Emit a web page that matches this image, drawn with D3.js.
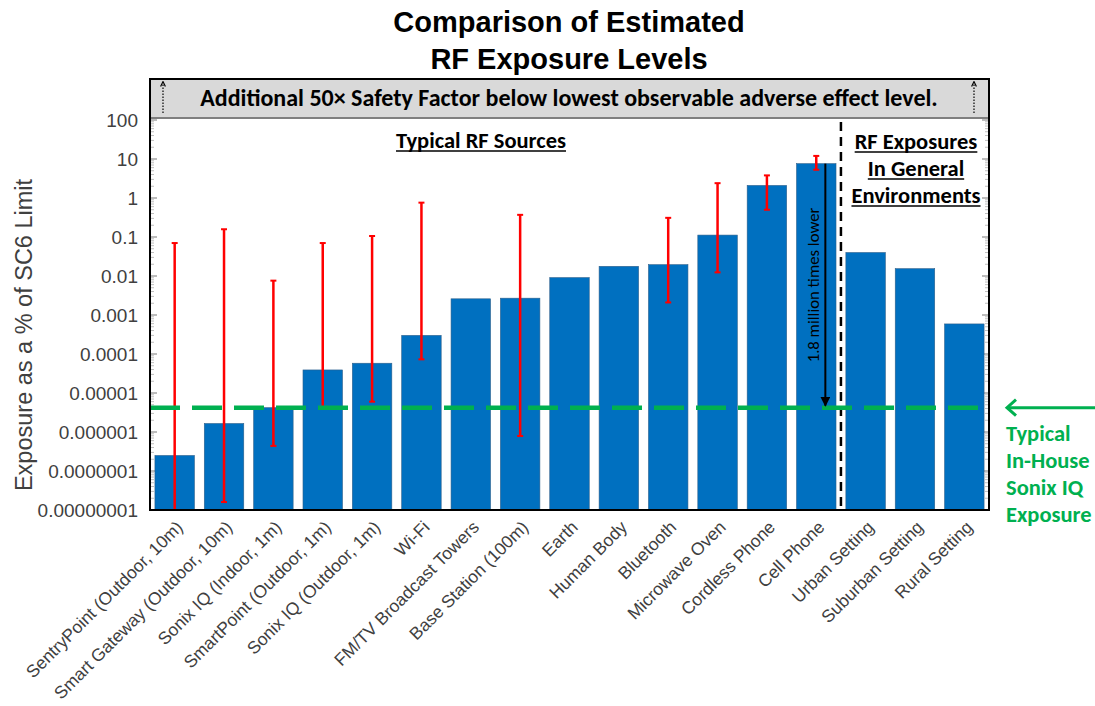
<!DOCTYPE html>
<html lang="en">
<head>
  <meta charset="UTF-8">
  <title>Comparison of Estimated RF Exposure Levels</title>
  <script src="https://d3js.org/d3.v7.min.js"></script>
  <style>
    body { margin: 0; background: #fff; }
    svg text { font-family: "Liberation Sans", Arial, sans-serif; }
    .cal { font-family: Carlito, Lato, "Open Sans", sans-serif !important; }
  </style>
</head>
<body>
<svg id="chart" width="1095" height="706"></svg>
<script>
  // data
  var categories = [
    "SentryPoint (Outdoor, 10m)", "Smart Gateway (Outdoor, 10m)", "Sonix IQ (Indoor, 1m)",
    "SmartPoint (Outdoor, 1m)", "Sonix IQ (Outdoor, 1m)", "Wi-Fi", "FM/TV Broadcast Towers",
    "Base Station (100m)", "Earth", "Human Body", "Bluetooth", "Microwave Oven",
    "Cordless Phone", "Cell Phone", "Urban Setting", "Suburban Setting", "Rural Setting"
  ];
  var values  = [2.5e-7, 1.65e-6, 4.2e-6, 3.9e-5, 5.8e-5, 3.0e-4, 2.6e-3, 2.7e-3, 9.1e-3,
                 0.0177, 0.0195, 0.112, 2.1, 7.6, 0.04, 0.0154, 5.9e-4];
  var errLow  = [1e-8, 1.6e-8, 4.4e-7, 4.1e-6, 6e-6, 7.3e-5, null, 7.9e-7, null,
                 null, 2.1e-3, 0.0124, 0.5, 5.3, null, null, null];
  var errHigh = [0.07, 0.158, 7.6e-3, 0.07, 0.106, 0.76, null, 0.37, null,
                 null, 0.31, 2.4, 3.8, 12, null, null, null];
  var tickValues = [100, 10, 1, 0.1, 0.01, 0.001, 1e-4, 1e-5, 1e-6, 1e-7, 1e-8];
  var tickLabels = ["100", "10", "1", "0.1", "0.01", "0.001", "0.0001", "0.00001",
                    "0.000001", "0.0000001", "0.00000001"];
  var sonixLevel = 4.2e-6;   // typical in-house Sonix IQ exposure
  var generalStart = "Urban Setting";

  var svg = d3.select("#chart");
  // note: "top" is taken by window.top, so frameTop
  var left = 150, right = 989, frameTop = 79, boxBottom = 118, plotTop = 120, bottom = 510;

  var x = d3.scaleBand().domain(categories).range([left, right])
    .paddingInner(0.2).paddingOuter(0.1);
  var y = d3.scaleLog().domain([1e-8, 100]).range([bottom, plotTop]);

  // title
  svg.append("text").attr("x", 569).attr("y", 32).attr("text-anchor", "middle")
    .style("font-size", "29px").style("font-weight", "bold").text("Comparison of Estimated");
  svg.append("text").attr("x", 569).attr("y", 69).attr("text-anchor", "middle")
    .style("font-size", "29px").style("font-weight", "bold").text("RF Exposure Levels");

  // grey safety factor band
  svg.append("rect").attr("x", left).attr("y", frameTop).attr("width", right - left)
    .attr("height", boxBottom - frameTop).attr("fill", "#d9d9d9");
  svg.append("line").attr("x1", left).attr("x2", right).attr("y1", boxBottom).attr("y2", boxBottom)
    .attr("stroke", "#7f7f7f").attr("stroke-width", 2);
  svg.append("text").attr("class", "cal").attr("x", 569).attr("y", 106).attr("text-anchor", "middle")
    .style("font-size", "24px").style("font-weight", "bold")
    .text("Additional 50\u00d7 Safety Factor below lowest observable adverse effect level.");

  var defs = svg.append("defs");
  defs.append("marker").attr("id", "openHead").attr("viewBox", "0 0 10 10")
    .attr("refX", 5).attr("refY", 5).attr("markerWidth", 5).attr("markerHeight", 5)
    .attr("orient", "auto")
    .append("path").attr("d", "M1,1 L9,5 L1,9").attr("fill", "none").attr("stroke", "#000").attr("stroke-width", 2);
  defs.append("marker").attr("id", "blackHead").attr("viewBox", "0 0 10 10")
    .attr("refX", 9).attr("refY", 5).attr("markerWidth", 5).attr("markerHeight", 5)
    .attr("orient", "auto")
    .append("path").attr("d", "M0,0 L10,5 L0,10 Z").attr("fill", "#000");

  [163, 974].forEach(function (ax) {
    svg.append("line").attr("x1", ax).attr("x2", ax).attr("y1", 113).attr("y2", 84)
      .attr("stroke", "#000").attr("stroke-width", 1.2).attr("stroke-dasharray", "1.5,1.5")
      .attr("marker-end", "url(#openHead)");
  });

  // minor / major ticks on both inner sides
  var minor = [];
  for (var e = -8; e < 2; e++) for (var k = 2; k < 10; k++) minor.push(k * Math.pow(10, e));
  [[left, 1], [right, -1]].forEach(function (s) {
    svg.append("g").selectAll("line").data(minor).join("line")
      .attr("x1", s[0]).attr("x2", s[0] + s[1] * 4)
      .attr("y1", function (d) { return y(d); }).attr("y2", function (d) { return y(d); })
      .attr("stroke", "#bfbfbf").attr("stroke-width", 1);
    svg.append("g").selectAll("line").data(tickValues).join("line")
      .attr("x1", s[0]).attr("x2", s[0] + s[1] * 7)
      .attr("y1", function (d) { return y(d); }).attr("y2", function (d) { return y(d); })
      .attr("stroke", "#a6a6a6").attr("stroke-width", 1.5);
  });

  // y axis labels
  var yAxis = d3.axisLeft(y).tickValues(tickValues)
    .tickFormat(function (d, i) { return tickLabels[i]; }).tickSize(0).tickPadding(12);
  var yg = svg.append("g").attr("transform", "translate(" + left + ",0)").call(yAxis);
  yg.select(".domain").remove();
  yg.selectAll("text").style("font-size", "19px").attr("fill", "#404040")
    .style("font-family", "'Liberation Sans', Arial, sans-serif");

  svg.append("text").attr("transform", "translate(32,335) rotate(-90)").attr("text-anchor", "middle")
    .style("font-size", "23.5px").attr("fill", "#404040").text("Exposure as a % of SC6 Limit");

  // bars
  svg.append("g").selectAll("rect").data(categories).join("rect")
    .attr("x", function (d) { return x(d); })
    .attr("y", function (d, i) { return y(values[i]); })
    .attr("width", x.bandwidth())
    .attr("height", function (d, i) { return bottom - y(values[i]); })
    .attr("fill", "#0070c0").attr("stroke", "#2e5f8a").attr("stroke-width", 0.6);

  // error bars
  var errIdx = categories.map(function (d, i) { return i; }).filter(function (i) { return errLow[i] !== null; });
  var eg = svg.append("g").attr("stroke", "#ff0000").attr("stroke-width", 2.5);
  errIdx.forEach(function (i) {
    var cx = x(categories[i]) + x.bandwidth() / 2;
    var y0 = Math.min(y(errLow[i]), bottom), y1 = y(errHigh[i]);
    eg.append("line").attr("x1", cx).attr("x2", cx).attr("y1", y0).attr("y2", y1);
    eg.append("line").attr("x1", cx - 3).attr("x2", cx + 3).attr("y1", y1).attr("y2", y1).attr("stroke-width", 2);
    eg.append("line").attr("x1", cx - 3).attr("x2", cx + 3).attr("y1", y0).attr("y2", y0).attr("stroke-width", 2);
  });

  // section divider
  var divX = x(generalStart) - x.step() * x.paddingInner() / 2;
  svg.append("line").attr("x1", divX).attr("x2", divX).attr("y1", plotTop + 2).attr("y2", bottom + 2)
    .attr("stroke", "#000").attr("stroke-width", 2.5).attr("stroke-dasharray", "9,6");

  // green level line
  svg.append("line").attr("x1", left).attr("x2", right).attr("y1", y(sonixLevel)).attr("y2", y(sonixLevel))
    .attr("stroke", "#00b050").attr("stroke-width", 4.5).attr("stroke-dasharray", "30,12");

  // 1.8 million arrow on cell phone
  var cell = categories.indexOf("Cell Phone");
  var ax = x(categories[cell]) + x.bandwidth() * 0.73;
  svg.append("line").attr("x1", ax).attr("x2", ax).attr("y1", y(values[cell])).attr("y2", y(sonixLevel) - 2)
    .attr("stroke", "#000").attr("stroke-width", 2).attr("marker-end", "url(#blackHead)");
  svg.append("text").attr("class", "cal")
    .attr("transform", "translate(" + (ax - 6) + "," + 285 + ") rotate(-90)")
    .attr("text-anchor", "middle").style("font-size", "16.7px").attr("fill", "#000")
    .text("1.8 million times lower");

  // section headings
  function heading(lines, cx, y0) {
    lines.forEach(function (t, i) {
      var tx = svg.append("text").attr("class", "cal").attr("x", cx).attr("y", y0 + i * 27)
        .attr("text-anchor", "middle").style("font-size", "22.5px").style("font-weight", "bold").text(t);
      var w = tx.node().getComputedTextLength();
      svg.append("line").attr("x1", cx - w / 2).attr("x2", cx + w / 2)
        .attr("y1", y0 + i * 27 + 3).attr("y2", y0 + i * 27 + 3).attr("stroke", "#000").attr("stroke-width", 1.5);
    });
  }
  heading(["Typical RF Sources"], 481, 148);
  heading(["RF Exposures", "In General", "Environments"], 916, 149);

  // frame
  svg.append("rect").attr("x", left).attr("y", frameTop).attr("width", right - left).attr("height", bottom - frameTop)
    .attr("fill", "none").attr("stroke", "#000").attr("stroke-width", 2);

  // x labels
  var xAxis = d3.axisBottom(x).tickSize(0).tickPadding(0);
  var xg = svg.append("g").attr("transform", "translate(0," + bottom + ")").call(xAxis);
  xg.select(".domain").remove();
  xg.selectAll("text")
    .attr("transform", "translate(0,9) rotate(-45)")
    .attr("text-anchor", "end").attr("dy", "0.75em").attr("x", 0).attr("y", 0)
    .style("font-size", "17.5px").attr("fill", "#404040")
    .style("font-family", "'Liberation Sans', Arial, sans-serif");

  // right side callout
  var gy = y(sonixLevel);
  svg.append("line").attr("x1", 1095).attr("x2", 1007).attr("y1", gy).attr("y2", gy)
    .attr("stroke", "#00b050").attr("stroke-width", 3);
  svg.append("path").attr("d", "M1016," + (gy - 8) + " L1007," + gy + " L1016," + (gy + 8))
    .attr("fill", "none").attr("stroke", "#00b050").attr("stroke-width", 3);
  ["Typical", "In-House", "Sonix IQ", "Exposure"].forEach(function (t, i) {
    svg.append("text").attr("class", "cal").attr("x", 1006).attr("y", 441 + i * 27)
      .style("font-size", "22.5px").style("font-weight", "bold").attr("fill", "#00b050").text(t);
  });
</script>
</body>
</html>
